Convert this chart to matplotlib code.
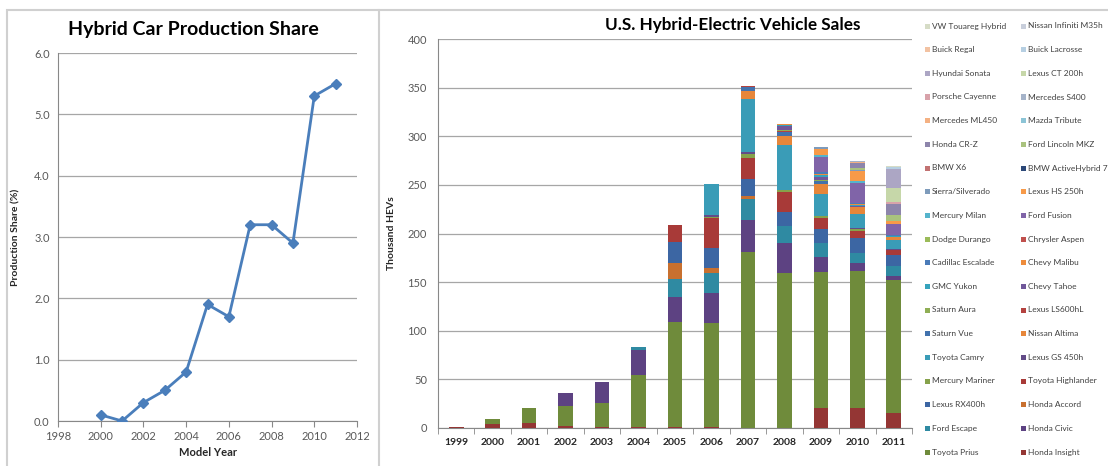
import matplotlib
matplotlib.use("Agg")
import matplotlib.pyplot as plt
from matplotlib.lines import Line2D
from matplotlib.patches import Rectangle

plt.rcParams['font.family'] = ['Lato', 'DejaVu Sans']

# ---- production share (left panel) ----
share_years = [2000, 2001, 2002, 2003, 2004, 2005, 2006, 2007, 2008, 2009, 2010, 2011]
share_pct = [0.1, 0.0, 0.3, 0.5, 0.8, 1.9, 1.7, 3.2, 3.2, 2.9, 5.3, 5.5]

# ---- U.S. HEV sales, thousands (right panel) ----
sale_years = ["1999", "2000", "2001", "2002", "2003", "2004", "2005",
              "2006", "2007", "2008", "2009", "2010", "2011"]

honda_insight        = [0.6, 3.8, 4.7, 2.2, 1.2, 0.6, 0.7, 0.7, 0.0, 0.0, 20.6, 21.0, 15.5]
toyota_prius         = [0, 5.6, 15.6, 20.1, 24.6, 54.0, 107.9, 107.0, 181.2, 158.9, 139.7, 140.9, 136.5]
honda_civic          = [0, 0, 0, 13.7, 21.8, 25.6, 25.9, 31.3, 32.6, 31.3, 15.1, 7.3, 4.7]
ford_escape          = [0, 0, 0, 0, 0, 3.0, 18.8, 20.1, 21.4, 17.2, 14.8, 11.2, 10.1]
honda_accord         = [0, 0, 0, 0, 0, 0, 16.8, 5.6, 3.4, 0, 0, 0, 0]
lexus_rx400h         = [0, 0, 0, 0, 0, 0, 20.7, 20.2, 17.3, 15.2, 14.5, 15.1, 10.7]
toyota_highlander    = [0, 0, 0, 0, 0, 0, 18.0, 31.5, 22.1, 19.6, 11.1, 7.5, 5.9]
mercury_mariner      = [0, 0, 0, 0, 0, 0, 0, 1.0, 3.7, 2.1, 1.7, 1.7, 0]
lexus_gs450h         = [0, 0, 0, 0, 0, 0, 0, 1.8, 1.6, 0.7, 0.6, 1.1, 0.4]
toyota_camry         = [0, 0, 0, 0, 0, 0, 0, 31.3, 54.5, 46.3, 22.9, 14.6, 9.2]
nissan_altima        = [0, 0, 0, 0, 0, 0, 0, 0, 8.4, 8.8, 9.4, 6.7, 3.2]
saturn_vue           = [0, 0, 0, 0, 0, 0, 0, 0, 4.4, 4.1, 3.3, 0, 0]
lexus_ls600hl        = [0, 0, 0, 0, 0, 0, 0, 0, 0.9, 0.9, 0.3, 0.1, 0.1]
saturn_aura          = [0, 0, 0, 0, 0, 0, 0, 0, 0, 1.4, 0.5, 0, 0]
chevy_tahoe          = [0, 0, 0, 0, 0, 0, 0, 0, 0, 3.7, 3.3, 1.4, 0.5]
gmc_yukon            = [0, 0, 0, 0, 0, 0, 0, 0, 0, 1.6, 1.9, 1.2, 0.5]
chevy_malibu         = [0, 0, 0, 0, 0, 0, 0, 0, 0, 0.9, 1.5, 0.4, 0]
cadillac_escalade    = [0, 0, 0, 0, 0, 0, 0, 0, 0, 0, 2.0, 1.2, 0.8]
chrysler_aspen       = [0, 0, 0, 0, 0, 0, 0, 0, 0, 0, 0.1, 0, 0]
dodge_durango        = [0, 0, 0, 0, 0, 0, 0, 0, 0, 0, 0.1, 0, 0]
ford_fusion          = [0, 0, 0, 0, 0, 0, 0, 0, 0, 0, 15.6, 20.8, 11.3]
mercury_milan        = [0, 0, 0, 0, 0, 0, 0, 0, 0, 0, 1.5, 1.4, 0.1]
lexus_hs250h         = [0, 0, 0, 0, 0, 0, 0, 0, 0, 0, 6.7, 10.7, 2.9]
sierra_silverado     = [0, 0, 0, 0, 0, 0, 0, 0, 0, 0, 1.6, 1.2, 0.4]
bmw_activehybrid7    = [0, 0, 0, 0, 0, 0, 0, 0, 0, 0, 0, 0.1, 0.1]
bmw_x6               = [0, 0, 0, 0, 0, 0, 0, 0, 0, 0, 0.2, 0.2, 0.1]
ford_lincoln_mkz     = [0, 0, 0, 0, 0, 0, 0, 0, 0, 0, 0, 1.2, 5.7]
honda_crz            = [0, 0, 0, 0, 0, 0, 0, 0, 0, 0, 0, 5.2, 11.3]
mazda_tribute        = [0, 0, 0, 0, 0, 0, 0, 0, 0, 0, 0, 0.6, 0.1]
mercedes_ml450       = [0, 0, 0, 0, 0, 0, 0, 0, 0, 0, 0, 0.6, 0.3]
mercedes_s400        = [0, 0, 0, 0, 0, 0, 0, 0, 0, 0, 0, 0.8, 0.3]
porsche_cayenne      = [0, 0, 0, 0, 0, 0, 0, 0, 0, 0, 0, 0.2, 1.6]
lexus_ct200h         = [0, 0, 0, 0, 0, 0, 0, 0, 0, 0, 0, 0, 14.4]
hyundai_sonata       = [0, 0, 0, 0, 0, 0, 0, 0, 0, 0, 0, 0, 19.7]
buick_lacrosse       = [0, 0, 0, 0, 0, 0, 0, 0, 0, 0, 0, 0, 1.8]
buick_regal          = [0, 0, 0, 0, 0, 0, 0, 0, 0, 0, 0, 0, 0.1]
nissan_infiniti_m35h = [0, 0, 0, 0, 0, 0, 0, 0, 0, 0, 0, 0, 0.4]
vw_touareg_hybrid    = [0, 0, 0, 0, 0, 0, 0, 0, 0, 0, 0, 0, 0.4]

# stacking order, bottom to top, with fill colours
series = [
    ("Honda Insight", honda_insight, "#943634"),
    ("Toyota Prius", toyota_prius, "#6f8b3b"),
    ("Honda Civic", honda_civic, "#5d4282"),
    ("Ford Escape", ford_escape, "#2f8aa2"),
    ("Honda Accord", honda_accord, "#c8702f"),
    ("Lexus RX400h", lexus_rx400h, "#3c66a3"),
    ("Toyota Highlander", toyota_highlander, "#a83a38"),
    ("Mercury Mariner", mercury_mariner, "#86a24b"),
    ("Lexus GS 450h", lexus_gs450h, "#634c88"),
    ("Toyota Camry", toyota_camry, "#3a9cb7"),
    ("Nissan Altima", nissan_altima, "#e6863a"),
    ("Saturn Vue", saturn_vue, "#4272ad"),
    ("Lexus LS600hL", lexus_ls600hl, "#b4423f"),
    ("Saturn Aura", saturn_aura, "#8fae55"),
    ("Chevy Tahoe", chevy_tahoe, "#70579a"),
    ("GMC Yukon", gmc_yukon, "#36a3bc"),
    ("Chevy Malibu", chevy_malibu, "#ee8c3c"),
    ("Cadillac Escalade", cadillac_escalade, "#4a7bb8"),
    ("Chrysler Aspen", chrysler_aspen, "#c0504d"),
    ("Dodge Durango", dodge_durango, "#9bbb59"),
    ("Ford Fusion", ford_fusion, "#8064a8"),
    ("Mercury Milan", mercury_milan, "#55b4cc"),
    ("Lexus HS 250h", lexus_hs250h, "#f79a48"),
    ("Sierra/Silverado", sierra_silverado, "#7e9bbb"),
    ("BMW ActiveHybrid 7", bmw_activehybrid7, "#2c4878"),
    ("BMW X6", bmw_x6, "#c27272"),
    ("Ford Lincoln MKZ", ford_lincoln_mkz, "#a9c27e"),
    ("Honda CR-Z", honda_crz, "#8d85ab"),
    ("Mazda Tribute", mazda_tribute, "#8cc4d6"),
    ("Mercedes ML450", mercedes_ml450, "#f4b183"),
    ("Mercedes S400", mercedes_s400, "#a5b3c9"),
    ("Porsche Cayenne", porsche_cayenne, "#d8a2aa"),
    ("Lexus CT 200h", lexus_ct200h, "#c6d7a9"),
    ("Hyundai Sonata", hyundai_sonata, "#aca6c4"),
    ("Buick Lacrosse", buick_lacrosse, "#b6cfe2"),
    ("Buick Regal", buick_regal, "#f2c2a2"),
    ("Nissan Infiniti M35h", nissan_infiniti_m35h, "#c8cedb"),
    ("VW Touareg Hybrid", vw_touareg_hybrid, "#d6dcc6"),
]

W, H = 1108, 466
fig = plt.figure(figsize=(W / 100, H / 100), dpi=100)
fig.patch.set_facecolor("white")


def fx(px):
    return px / W


def fy(py):
    return 1 - py / H


# panel frames
frame_col = "#d0d0d0"
fig.add_artist(Rectangle((fx(7), fy(470)), fx(372), fy(10) - fy(470),
                         transform=fig.transFigure, fill=False,
                         edgecolor=frame_col, linewidth=1.5))
fig.add_artist(Line2D([fx(379), 1], [fy(10), fy(10)],
                      transform=fig.transFigure, color=frame_col, linewidth=1.5))

grid_col = "#a6a6a6"
tick_col = "#595959"
text_col = "#262626"

# ---------- left: production share line ----------
ax1 = fig.add_axes([fx(58), fy(421), fx(357) - fx(58), fy(53) - fy(421)])
ax1.plot(share_years, share_pct, color="#4a7ebb", linewidth=2,
         marker="D", markersize=5, markerfacecolor="#4a7ebb",
         markeredgecolor="#4a7ebb", zorder=3)
ax1.set_xlim(1998, 2012)
ax1.set_ylim(0, 6.0)
ax1.set_xticks(range(1998, 2013, 2))
ax1.set_yticks([i * 1.0 for i in range(7)])
ax1.set_yticklabels([f"{i:.1f}" for i in range(7)])
ax1.yaxis.grid(True, color=grid_col, linewidth=0.9)
ax1.set_axisbelow(True)
for s in ["top", "right"]:
    ax1.spines[s].set_visible(False)
for s in ["left", "bottom"]:
    ax1.spines[s].set_color("#888888")
ax1.tick_params(axis="y", length=0, labelsize=8, labelcolor=tick_col, pad=6)
ax1.tick_params(axis="x", direction="out", length=4, color="#888888",
                labelsize=8, labelcolor=tick_col, pad=3)
ax1.set_xlabel("Model Year", fontsize=8, fontweight="bold", color=text_col, labelpad=4)
ax1.set_ylabel("Production Share (%)", fontsize=7.5, fontweight="bold",
               color=text_col, labelpad=10)
fig.text(fx(193), fy(30), "Hybrid Car Production Share", ha="center",
         va="center", fontsize=14, fontweight="bold", color="black")

# ---------- right: stacked HEV sales ----------
ax2 = fig.add_axes([fx(438), fy(428), fx(912) - fx(438), fy(39) - fy(428)])
xpos = list(range(len(sale_years)))
bottom = [0.0] * len(sale_years)
for name, vals, col in series:
    ax2.bar(xpos, vals, width=0.4, bottom=bottom, color=col, linewidth=0,
            label=name, zorder=3)
    bottom = [b + v for b, v in zip(bottom, vals)]

ax2.set_xlim(-0.5, len(sale_years) - 0.5)
ax2.set_ylim(0, 400)
ax2.set_yticks(range(0, 401, 50))
ax2.yaxis.grid(True, color=grid_col, linewidth=0.9)
ax2.set_axisbelow(True)
ax2.set_xticks(xpos)
ax2.set_xticklabels(sale_years, fontweight="bold")
ax2.set_xticks([x - 0.5 for x in range(len(sale_years) + 1)], minor=True)
for s in ["top", "right"]:
    ax2.spines[s].set_visible(False)
for s in ["left", "bottom"]:
    ax2.spines[s].set_color("#888888")
ax2.tick_params(axis="x", which="major", length=0, labelsize=7.5,
                labelcolor=text_col, pad=7)
ax2.tick_params(axis="x", which="minor", direction="out", length=4, color="#888888")
ax2.tick_params(axis="y", length=0, labelsize=8, labelcolor=tick_col, pad=8)
ax2.set_ylabel("Thousand HEVs", fontsize=7.5, fontweight="bold", color=text_col,
               labelpad=8)
fig.text(fx(733), fy(25), "U.S. Hybrid-Electric Vehicle Sales", ha="center",
         va="center", fontsize=12.3, fontweight="bold", color="black")

# legend: two columns, newest series first, read row by row
rev = series[::-1]
n_rows = (len(rev) + 1) // 2
row0, row_step = 26, (452 - 26) / (n_rows - 1)
for i, (name, vals, col) in enumerate(rev):
    r, c = divmod(i, 2)
    y = row0 + r * row_step
    xm = 925 if c == 0 else 1021
    fig.add_artist(Rectangle((fx(xm), fy(y + 2.5)), fx(5), fy(y - 2.5) - fy(y + 2.5),
                             transform=fig.transFigure, facecolor=col,
                             edgecolor="none"))
    fig.text(fx(xm + 7), fy(y), name, ha="left", va="center", fontsize=6,
             color="#404040")

fig.savefig("out.png", dpi=100, facecolor="white")
